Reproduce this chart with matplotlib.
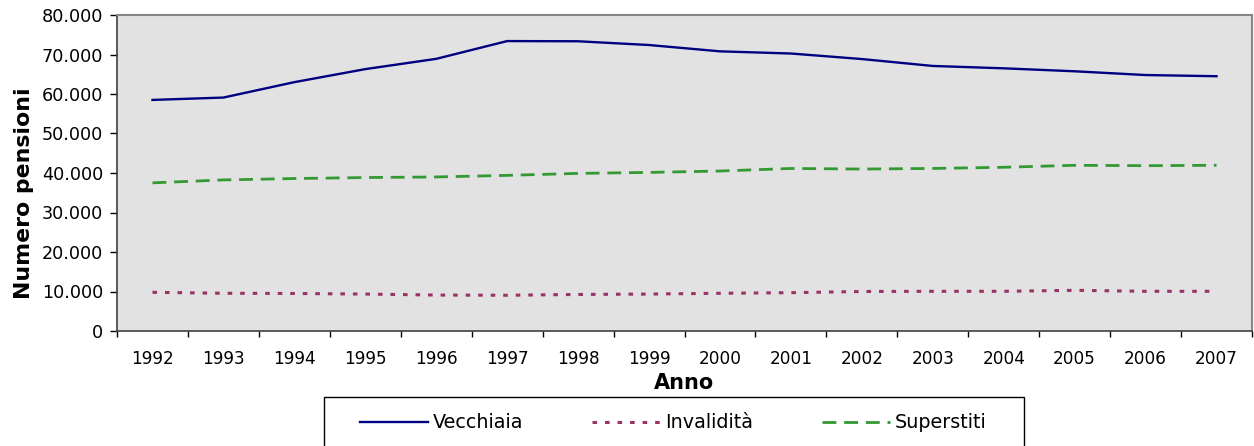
import matplotlib
matplotlib.use("Agg")
import matplotlib.pyplot as plt
from matplotlib.patches import Rectangle
import numpy as np

years = ["1992", "1993", "1994", "1995", "1996", "1997", "1998", "1999",
         "2000", "2001", "2002", "2003", "2004", "2005", "2006", "2007"]
vecchiaia = [58500, 59100, 63000, 66300, 68900, 73400, 73350, 72400,
             70800, 70250, 68850, 67100, 66500, 65750, 64800, 64500]
invalidita = [9800, 9550, 9500, 9350, 9100, 9050, 9250, 9350,
              9550, 9700, 10000, 10050, 10050, 10300, 10050, 10050]
superstiti = [37500, 38250, 38600, 38850, 39000, 39400, 39900, 40150,
              40500, 41150, 41000, 41150, 41450, 41950, 41850, 41950]

W, H = 1254, 446
fig = plt.figure(figsize=(W / 100, H / 100), dpi=100)
ax = fig.add_axes([117 / W, 115 / H, (1252 - 117) / W, (331 - 15) / H])
ax.set_facecolor("#E2E2E2")

x = np.arange(len(years))
l1, = ax.plot(x, vecchiaia, color="#000080", lw=1.7, label="Vecchiaia")
l2, = ax.plot(x, invalidita, color="#993366", lw=2.2, ls=(0, (1.5, 2.6)), label="Invalidità")
l3, = ax.plot(x, superstiti, color="#339933", lw=2.0, ls=(0, (5, 2.8)), label="Superstiti")

ax.set_xlim(-0.5, len(years) - 0.5)
ax.set_ylim(0, 80000)
yt = np.arange(0, 80001, 10000)
ax.set_yticks(yt)
ax.set_yticklabels([f"{int(v):,}".replace(",", ".") for v in yt],
                   fontsize=12.7, family="DejaVu Sans")
ax.set_xticks(x)
ax.set_xticklabels(years, fontsize=12.2, family="DejaVu Sans")
ax.set_xticks(np.arange(-0.5, len(years)), minor=True)
ax.tick_params(axis="x", which="major", length=0, pad=14)
ax.tick_params(axis="x", which="minor", length=4.5, width=1, color="black", direction="out")
ax.tick_params(axis="y", length=5, width=1, color="black", pad=5)

for s in ["top", "right"]:
    ax.spines[s].set_color("#868686")
    ax.spines[s].set_linewidth(1.5)
for s in ["left", "bottom"]:
    ax.spines[s].set_color("#404040")
    ax.spines[s].set_linewidth(1.2)

ax.set_ylabel("Numero pensioni", fontsize=15.8, fontweight="bold", family="DejaVu Sans")
ax.yaxis.set_label_coords(-0.073, 0.435)
ax.set_xlabel("Anno", fontsize=15, fontweight="bold", family="DejaVu Sans", labelpad=3)

leg = fig.legend(handles=[l1, l2, l3], loc="center left",
                 bbox_to_anchor=(360 / W, 1 - 423 / H), ncol=3,
                 frameon=False, prop={"family": "DejaVu Sans", "size": 13.75},
                 handlelength=3.56, handletextpad=0.26, columnspacing=3.6,
                 borderpad=0, borderaxespad=0)

fig.patches.append(Rectangle((324 / W, -0.05), 700 / W, (H - 397) / H + 0.05,
                             transform=fig.transFigure, fill=False,
                             edgecolor="black", linewidth=1.0))

fig.savefig("out.png", dpi=100, facecolor="white")
